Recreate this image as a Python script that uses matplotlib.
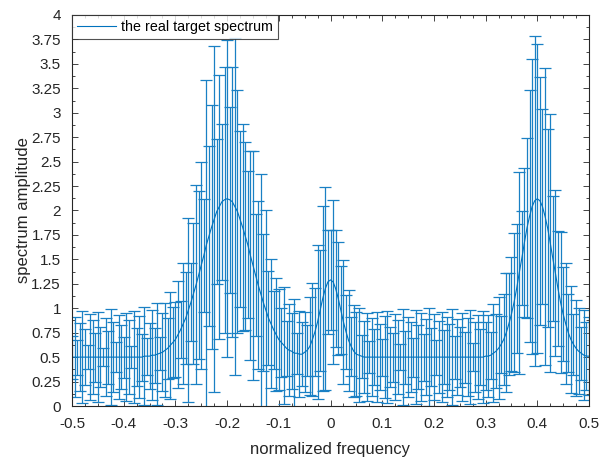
import numpy as np
import matplotlib
matplotlib.use("Agg")
import matplotlib.pyplot as plt
from matplotlib.lines import Line2D
from matplotlib.ticker import MultipleLocator, FuncFormatter

plt.rcParams['font.family'] = ['Liberation Sans', 'DejaVu Sans']
plt.rcParams['axes.unicode_minus'] = False

# frequency grid, step 0.005 from -0.5 to 0.5
freq = np.arange(-100, 101) / 200.0

# spectrum amplitude at each frequency bin
spectrum = [
    0.50, 0.50, 0.50, 0.50, 0.50, 0.50, 0.50, 0.50, 0.50, 0.50,
    0.50, 0.50, 0.50, 0.50, 0.50, 0.50, 0.50, 0.50, 0.50, 0.50,
    0.50, 0.50, 0.50, 0.50, 0.50, 0.50, 0.50, 0.50, 0.51, 0.51,
    0.51, 0.52, 0.52, 0.53, 0.54, 0.55, 0.57, 0.59, 0.62, 0.65,
    0.68, 0.73, 0.78, 0.84, 0.90, 0.98, 1.06, 1.15, 1.24, 1.34,
    1.44, 1.54, 1.65, 1.74, 1.83, 1.91, 1.99, 2.04, 2.09, 2.11,
    2.12, 2.11, 2.09, 2.04, 1.99, 1.91, 1.83, 1.74, 1.65, 1.54,
    1.44, 1.34, 1.24, 1.15, 1.06, 0.98, 0.90, 0.84, 0.78, 0.73,
    0.68, 0.65, 0.62, 0.59, 0.57, 0.56, 0.54, 0.54, 0.53, 0.53,
    0.55, 0.57, 0.61, 0.68, 0.76, 0.86, 0.98, 1.10, 1.20, 1.27,
    1.29, 1.27, 1.20, 1.10, 0.98, 0.86, 0.76, 0.67, 0.61, 0.56,
    0.53, 0.52, 0.51, 0.50, 0.50, 0.50, 0.50, 0.50, 0.50, 0.50,
    0.50, 0.50, 0.50, 0.50, 0.50, 0.50, 0.50, 0.50, 0.50, 0.50,
    0.50, 0.50, 0.50, 0.50, 0.50, 0.50, 0.50, 0.50, 0.50, 0.50,
    0.50, 0.50, 0.50, 0.50, 0.50, 0.50, 0.50, 0.50, 0.50, 0.50,
    0.50, 0.50, 0.50, 0.50, 0.50, 0.50, 0.50, 0.50, 0.50, 0.50,
    0.51, 0.51, 0.52, 0.54, 0.56, 0.59, 0.63, 0.68, 0.75, 0.84,
    0.94, 1.06, 1.20, 1.36, 1.51, 1.67, 1.82, 1.94, 2.04, 2.10,
    2.12, 2.10, 2.04, 1.94, 1.82, 1.67, 1.51, 1.36, 1.20, 1.06,
    0.94, 0.84, 0.75, 0.68, 0.63, 0.59, 0.56, 0.54, 0.52, 0.51,
    0.51,
]

# half-length of the error bar at each bin
spread = [
    0.22, 0.41, 0.18, 0.35, 0.47, 0.29, 0.12, 0.44, 0.38, 0.25,
    0.46, 0.31, 0.09, 0.40, 0.27, 0.49, 0.36, 0.15, 0.43, 0.33,
    0.21, 0.45, 0.38, 0.11, 0.47, 0.30, 0.42, 0.24, 0.50, 0.19,
    0.34, 0.46, 0.28, 0.52, 0.17, 0.40, 0.48, 0.31, 0.55, 0.36,
    0.38, 0.55, 0.29, 0.62, 0.47, 0.94, 0.40, 0.72, 1.02, 0.86,
    1.06, 0.58, 1.69, 0.92, 1.25, 1.77, 0.74, 1.35, 0.80, 1.36,
    1.62, 0.95, 1.38, 1.72, 1.24, 0.90, 1.06, 0.96, 0.75, 1.07,
    1.17, 0.62, 0.86, 1.22, 0.70, 1.02, 0.48, 0.66, 0.40, 0.58,
    0.52, 0.35, 0.60, 0.28, 0.47, 0.39, 0.55, 0.21, 0.44, 0.33,
    0.41, 0.26, 0.50, 0.58, 0.45, 0.79, 0.62, 0.95, 1.04, 0.53,
    0.51, 0.84, 0.60, 0.58, 0.45, 0.63, 0.38, 0.52, 0.30, 0.47,
    0.43, 0.48, 0.22, 0.37, 0.45, 0.16, 0.40, 0.29, 0.46, 0.34,
    0.19, 0.42, 0.47, 0.31, 0.25, 0.44, 0.38, 0.13, 0.49, 0.27,
    0.41, 0.36, 0.20, 0.48, 0.33, 0.45, 0.24, 0.39, 0.50, 0.30,
    0.44, 0.18, 0.37, 0.46, 0.28, 0.41, 0.34, 0.49, 0.22, 0.39,
    0.31, 0.45, 0.26, 0.40, 0.48, 0.14, 0.36, 0.43, 0.29, 0.47,
    0.35, 0.42, 0.24, 0.50, 0.38, 0.52, 0.29, 0.47, 0.61, 0.52,
    0.58, 0.71, 0.66, 1.03, 0.48, 0.76, 0.92, 1.29, 1.51, 1.69,
    1.58, 1.27, 1.00, 1.52, 1.01, 1.32, 0.64, 0.85, 0.59, 0.72,
    0.48, 0.62, 0.40, 0.55, 0.31, 0.49, 0.44, 0.27, 0.46, 0.35,
    0.40,
]

blue = '#0072BD'

fig = plt.figure(figsize=(6.01, 4.61), dpi=100)
ax = fig.add_axes([72 / 601, 55 / 461, 517 / 601, 391 / 461])

ax.errorbar(freq, spectrum, yerr=spread, color=blue, ecolor='#1a80c4',
            lw=0.8, elinewidth=0.9, capsize=4, capthick=0.9)

ax.set_xlim(-0.5, 0.5)
ax.set_ylim(0, 4)
ax.xaxis.set_major_locator(MultipleLocator(0.1))
ax.xaxis.set_minor_locator(MultipleLocator(0.025))
ax.yaxis.set_major_locator(MultipleLocator(0.25))
ax.yaxis.set_minor_locator(MultipleLocator(0.125))

def fmt(v, pos):
    s = '%g' % round(v, 4)
    return '0' if s == '-0' else s

ax.xaxis.set_major_formatter(FuncFormatter(fmt))
ax.yaxis.set_major_formatter(FuncFormatter(fmt))
ax.tick_params(which='both', direction='in', top=True, right=True,
               colors='#262626', labelsize=11, labelcolor='#262626')
ax.tick_params(which='major', length=4, width=0.6)
ax.tick_params(which='minor', length=2, width=0.6)
ax.tick_params(axis='x', which='major', pad=8)
ax.tick_params(axis='y', which='major', pad=8)
for sp in ax.spines.values():
    sp.set_color('#262626')
    sp.set_linewidth(0.8)

ax.set_xlabel('normalized frequency', fontsize=12, color='#262626', labelpad=8)
ax.set_ylabel('spectrum amplitude', fontsize=12, color='#262626', labelpad=0)

# legend sample is the plain line
handle = Line2D([], [], color=blue, lw=0.8)
leg = ax.legend([handle], ['the real target spectrum'], loc='upper left',
                fontsize=10.3, frameon=True, fancybox=False, borderaxespad=0,
                handlelength=2.7, borderpad=0.35, handletextpad=0.4)
leg.get_frame().set_edgecolor('#262626')
leg.get_frame().set_linewidth(0.8)

fig.savefig('out.png', dpi=100)
